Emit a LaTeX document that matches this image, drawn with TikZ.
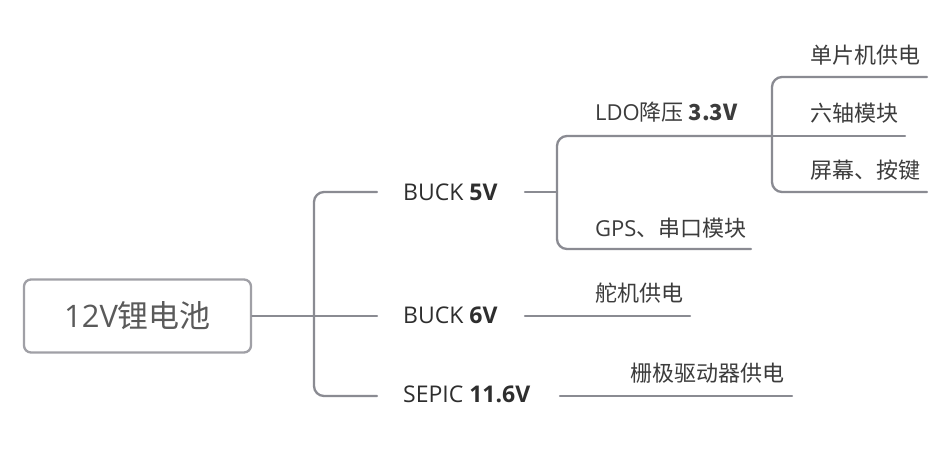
\documentclass[tikz,border=0pt]{standalone}
\usepackage{fontspec}
\setmainfont{Open Sans}
\newfontfamily\cjk{Noto Sans CJK SC}
\definecolor{linegray}{HTML}{8A8B92}
\definecolor{boxgray}{HTML}{A0A0A6}
\definecolor{roottext}{HTML}{5A5A5A}
\definecolor{lonetext}{HTML}{2E2E2E}
\definecolor{ltwotext}{HTML}{3C3C3C}
\tikzset{
  conn/.style={draw=linegray, line width=2.3pt, line cap=round},
  bracket/.style={conn, rounded corners=10pt},
  rootbox/.style={draw=boxgray, line width=2.3pt, rounded corners=7pt, fill=white,
    minimum width=227pt, minimum height=73pt, inner sep=0pt,
    text=roottext, font=\fontsize{31}{36}\selectfont},
  lone/.style={anchor=west, inner sep=0pt, text=lonetext, font=\fontsize{23}{27}\selectfont},
  ltwo/.style={anchor=west, inner sep=0pt, text=ltwotext, font=\fontsize{22}{26}\selectfont},
}
\begin{document}
\begin{tikzpicture}[x=1pt,y=-1pt]
\useasboundingbox[fill=white] (0,0) rectangle (944,475);
% nodes
\node[rootbox] (root) at (137.5,316) {12V\cjk{锂电池}};
\node[lone] (b5) at (403,192) {BUCK \textbf{5V}};
\node[lone] (b6) at (403,315) {BUCK \textbf{6V}};
\node[lone] (sp) at (403,394) {SEPIC \textbf{11.6V}};
\node[ltwo] (ldo) at (595,112) {LDO\cjk{降压} \textbf{3.3V}};
\node[ltwo] (gps) at (595,228) {GPS\cjk{、串口模块}};
\node[ltwo] (duoji) at (595,293) {\cjk{舵机供电}};
\node[ltwo] (shanji) at (630,373) {\cjk{栅极驱动器供电}};
\node[ltwo] (mcu) at (810,55) {\cjk{单片机供电}};
\node[ltwo] (imu) at (810,113) {\cjk{六轴模块}};
\node[ltwo] (scr) at (810,170) {\cjk{屏幕、按键}};
% junctions and line ends
\coordinate (j1) at (314,316);
\coordinate (j2) at (557,192);
\coordinate (j3) at (772,136);
\coordinate (b5in) at (377,192);
\coordinate (b6in) at (377,316);
\coordinate (spin) at (377,396);
\coordinate (b5out) at (525,192);
\coordinate (b6out) at (525,316);
\coordinate (spout) at (560,396);
\coordinate (gpsend) at (751,249);
\coordinate (duojiend) at (690,316);
\coordinate (shanjiend) at (792,396);
\coordinate (mcuend) at (927,77);
\coordinate (imuend) at (905,136);
\coordinate (scrend) at (927,192);
% connectors
\draw[conn] (root.east) -- (j1);
\draw[bracket] (b5in) -| (j1) |- (spin);
\draw[conn] (b6in) -- (j1);
\draw[conn] (b5out) -- (j2);
\draw[bracket] (j3) -| (j2) |- (gpsend);
\draw[conn] (b6out) -- (duojiend);
\draw[conn] (spout) -- (shanjiend);
\draw[bracket] (mcuend) -| (j3) |- (scrend);
\draw[conn] (j3) -- (imuend);
\end{tikzpicture}
\end{document}
